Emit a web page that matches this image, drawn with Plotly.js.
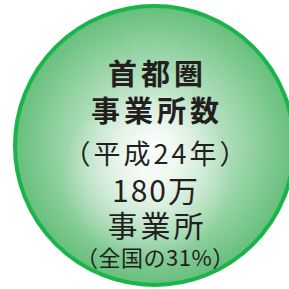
<!DOCTYPE html>
<html>
<head>
<meta charset="utf-8">
<script src="https://cdn.plot.ly/plotly-3.0.1.min.js"></script>
<style>
html,body{margin:0;padding:0;background:#fff;}
#chart{width:289px;height:289px;}
</style>
</head>
<body>
<div id="chart"></div>
<script>
// Data
var regionName = "首都圏";
var metricName = "事業所数";
var yearLabel = "（平成24年）";
var countValue = 180;           // 万
var countUnit = "万";
var countNoun = "事業所";
var sharePercent = 31;          // % of national
var shareLabel = "（全国の" + sharePercent + "%）";

var lines = [regionName, metricName, yearLabel, countValue + countUnit, countNoun, shareLabel];
var lineBold = [true, true, false, false, false, false];

var W = 289, H = 289;
var cx = 154.5, cy = 145.5, r = 141.5;
var lineY = [72, 109, 152, 189, 224, 256];
var lineSize = [29, 29, 27, 30, 30, 22];
var lineSpacing = [4, 4, 3, 2, 3, 0.5];

var annotations = lines.map(function(t, i){
  return {
    x: 155 + lineSpacing[i] / 2, y: lineY[i], xref: 'x', yref: 'y',
    text: lineBold[i] ? '<b>' + t + '</b>' : t,
    showarrow: false, xanchor: 'center', yanchor: 'middle',
    font: {family: '"Noto Sans CJK JP", "Noto Sans", sans-serif', size: lineSize[i], color: '#231f20'}
  };
});

var traces = [{
  x: [cx], y: [cy], type: 'scatter', mode: 'markers', hoverinfo: 'skip',
  marker: {
    size: 2 * r - 4, color: '#66bf7c',
    gradient: {type: 'radial', color: '#fbfdfb'},
    line: {width: 4, color: '#1ab54a'}
  }
}, {
  x: [cx - 8], y: [cy + 30], type: 'scatter', mode: 'markers', hoverinfo: 'skip',
  marker: {
    size: 170, color: 'rgba(255,255,255,0)',
    gradient: {type: 'radial', color: 'rgba(255,255,255,0.75)'},
    line: {width: 0}
  }
}];

var layout = {
  width: W, height: H,
  margin: {l: 0, r: 0, t: 0, b: 0},
  paper_bgcolor: '#ffffff', plot_bgcolor: '#ffffff',
  showlegend: false,
  xaxis: {range: [0, W], visible: false, fixedrange: true},
  yaxis: {range: [H, 0], visible: false, fixedrange: true},
  annotations: annotations
};

Plotly.newPlot('chart', traces, layout, {staticPlot: true, displayModeBar: false}).then(function(){
  var texts = document.querySelectorAll('.annotation-text');
  texts.forEach(function(el, i){
    el.style.letterSpacing = lineSpacing[i] + 'px';
  });
});
</script>
</body>
</html>
